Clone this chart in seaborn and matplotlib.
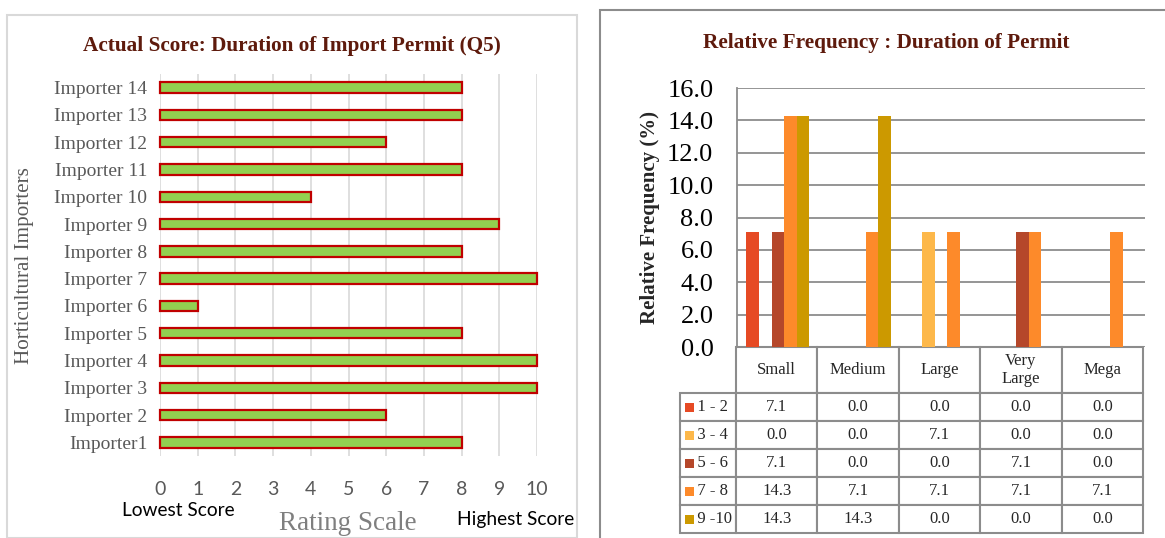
import matplotlib
matplotlib.use('Agg')
import matplotlib.pyplot as plt
import seaborn as sns
import pandas as pd
from matplotlib.patches import Rectangle

# ---------------------------------------------------------------------
# Data
# ---------------------------------------------------------------------
importers = ["Importer 14", "Importer 13", "Importer 12", "Importer 11", "Importer 10",
             "Importer 9", "Importer 8", "Importer 7", "Importer 6", "Importer 5",
             "Importer 4", "Importer 3", "Importer 2", "Importer1"]
scores = [8, 8, 6, 8, 4, 9, 8, 10, 1, 8, 10, 10, 6, 8]

sizes = ["Small", "Medium", "Large", "Very Large", "Mega"]
size_labels = ["Small", "Medium", "Large", "Very\nLarge", "Mega"]
ranges = ["1 - 2", "3 - 4", "5 - 6", "7 - 8", "9 -10"]
freq_1_2 = [7.1, 0.0, 0.0, 0.0, 0.0]
freq_3_4 = [0.0, 0.0, 7.1, 0.0, 0.0]
freq_5_6 = [7.1, 0.0, 0.0, 7.1, 0.0]
freq_7_8 = [14.3, 7.1, 7.1, 7.1, 7.1]
freq_9_10 = [14.3, 14.3, 0.0, 0.0, 0.0]
range_colors = ["#E64A24", "#FDB84A", "#B5472A", "#FD8A2A", "#CC9900"]

# ---------------------------------------------------------------------
# Style
# ---------------------------------------------------------------------
sns.set_style('white')
plt.rcParams['font.family'] = ['Liberation Serif', 'DejaVu Sans']

W, H = 1165, 538
fig = plt.figure(figsize=(W / 100, H / 100), dpi=100)


def px_axes(x0, y0, x1, y1):
    """Axes from pixel box (top-left origin)."""
    return fig.add_axes([x0 / W, 1 - y1 / H, (x1 - x0) / W, (y1 - y0) / H])


TITLE_COLOR = "#5E1A0C"
GRAY = "#595959"

# panel frames
fig.patches.append(Rectangle((7 / W, 0), 570 / W, 1 - 15 / H, transform=fig.transFigure,
                             fill=False, edgecolor='#d9d9d9', lw=1.5))
fig.patches.append(Rectangle((600 / W, -0.05), 600 / W, 1.05 - 10 / H, transform=fig.transFigure,
                             fill=False, edgecolor='#8c8c8c', lw=1.5))

# ---------------------------------------------------------------------
# Left: actual score bar chart
# ---------------------------------------------------------------------
ax1 = px_axes(160, 74, 537, 456)
df_scores = pd.DataFrame({'Importer': importers, 'Score': scores})
sns.barplot(data=df_scores, x='Score', y='Importer', orient='h', color='#92D050',
            saturation=1, edgecolor='#C00000', linewidth=1.6, width=0.38, ax=ax1)
for p in ax1.patches:
    p.set_clip_on(False)
ax1.set_xlim(0, 10)
ax1.set_xticks(range(0, 11))
ax1.grid(axis='x', color='#d9d9d9', lw=1.2)
ax1.set_axisbelow(True)
for s in ax1.spines.values():
    s.set_visible(False)
ax1.tick_params(axis='x', length=0, pad=18, labelsize=14, labelcolor=GRAY)
ax1.tick_params(axis='y', length=0, pad=9, labelsize=14, labelcolor=GRAY)
for lbl in ax1.get_xticklabels():
    lbl.set_family('Lato')
ax1.set_xlabel('')
ax1.set_ylabel('')

fig.text(292 / W, 1 - 46 / H, "Actual Score: Duration of Import Permit (Q5)",
         ha='center', va='center', fontsize=15.3, fontweight='bold', color=TITLE_COLOR)
fig.text(25 / W, 1 - 266 / H, "Horticultural Importers", rotation=90,
         ha='center', va='center', fontsize=15.2, color=GRAY)
fig.text(348 / W, 1 - 523 / H, "Rating Scale", ha='center', va='center',
         fontsize=19.5, color='#7f7f7f')
fig.text(178 / W, 1 - 511 / H, "Lowest Score", ha='center', va='center',
         fontsize=13.8, color='black', family='Lato')
fig.text(516 / W, 1 - 520 / H, "Highest Score", ha='center', va='center',
         fontsize=13.8, color='black', family='Lato')

# ---------------------------------------------------------------------
# Right: relative frequency grouped bars + data table
# ---------------------------------------------------------------------
ax2 = px_axes(737, 88, 1145, 347)
series = [freq_1_2, freq_3_4, freq_5_6, freq_7_8, freq_9_10]
df_freq = pd.DataFrame({
    'Size': [s for _ in ranges for s in sizes],
    'Range': [r for r in ranges for _ in sizes],
    'Freq': [v for vals in series for v in vals],
})
sns.barplot(data=df_freq, x='Size', y='Freq', hue='Range', order=sizes, hue_order=ranges,
            palette=range_colors, saturation=1, width=0.77, gap=0, linewidth=0,
            legend=False, ax=ax2)
ax2.set_ylim(0, 16)
ax2.set_xlim(-0.5, 4.5)
ax2.set_yticks(range(0, 17, 2))
ax2.set_yticklabels([f"{v:.1f}" for v in range(0, 17, 2)])
ax2.grid(axis='y', color='#8c8c8c', lw=1.3)
ax2.set_axisbelow(True)
for s in ['top', 'right', 'bottom']:
    ax2.spines[s].set_visible(False)
ax2.spines['left'].set_color('#8c8c8c')
ax2.spines['left'].set_linewidth(1.3)
ax2.tick_params(axis='y', length=0, pad=17, labelsize=19, labelcolor='black')
ax2.set_xticks([])
ax2.set_xlabel('')
ax2.set_ylabel("Relative Frequency (%)", fontsize=15, fontweight='bold', labelpad=5)

# bbox covers header + data cells; the row-label column hangs off to the left
cell_text = [[f"{v:.1f}" for v in vals] for vals in series]
tbl = ax2.table(cellText=cell_text, rowLabels=["   " + r for r in ranges],
                colLabels=size_labels, cellLoc='center', rowLoc='left',
                bbox=[(736 - 737) / 408, -(533 - 347) / 259, (1143 - 736) / 408, (533 - 347) / 259])
tbl.auto_set_font_size(False)
for (r, c), cell in tbl.get_celld().items():
    cell.set_edgecolor('#8c8c8c')
    cell.set_linewidth(1.5)
    cell.get_text().set_fontsize(12)
    cell.set_width(69 if c == -1 else 81.5)
    cell.set_height(46 if r == 0 else 28)

fig.canvas.draw()
for i, col in enumerate(range_colors):
    cell = tbl[(i + 1, -1)]
    x, y, h = cell.get_x(), cell.get_y(), cell.get_height()
    ax2.add_patch(Rectangle((x + 5 / 408, y + h / 2 - 4.5 / 259), 9 / 408, 9 / 259,
                            transform=ax2.transAxes, facecolor=col, edgecolor='none',
                            clip_on=False))

fig.text(886 / W, 1 - 43 / H, "Relative Frequency : Duration of Permit",
         ha='center', va='center', fontsize=15.3, fontweight='bold', color=TITLE_COLOR)

fig.savefig('out.png', dpi=100)
